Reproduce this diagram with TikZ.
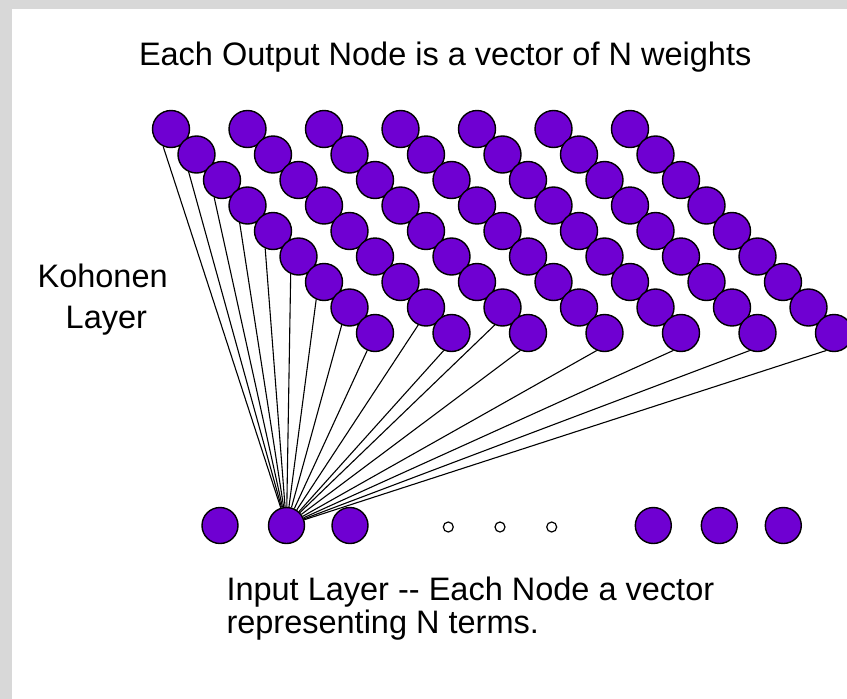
\documentclass[tikz,border=0pt]{standalone}
\usepackage{fontspec}
\setmainfont{Liberation Sans}
\pgfdeclarelayer{back}
\pgfdeclarelayer{bg}
\pgfsetlayers{back,bg,main}
\definecolor{nodepurple}{HTML}{6F00D2}
\definecolor{bggray}{HTML}{D8D8D8}
\begin{document}
\begin{tikzpicture}[x=1pt,y=-1pt,
  outnode/.style={circle,draw=black,fill=nodepurple,line width=1.4pt,minimum size=37pt,inner sep=0pt},
  innode/.style={circle,draw=black,fill=nodepurple,line width=1.4pt,minimum size=36pt,inner sep=0pt},
  dotnode/.style={circle,draw=black,fill=white,line width=1.2pt,minimum size=10pt,inner sep=0pt},
  link/.style={draw=black,line width=1.1pt},
  label/.style={inner sep=0pt,outer sep=0pt,anchor=base west,font=\fontsize{32.5}{40}\selectfont}]
\useasboundingbox (0,0) rectangle (847,699);
\begin{pgfonlayer}{back}
\fill[bggray] (0,0) rectangle (847,699);
\fill[white] (12,9) rectangle (847,699);
\end{pgfonlayer}
% title
\node[label] (title) at (139,65) {Each Output Node is a vector of N weights};
% side label
\node[label] (koh1) at (37.6,287) {Kohonen};
\node[label] (koh2) at (65.7,328) {Layer};
% output (Kohonen) nodes
\foreach \c in {0,...,6}{
  \foreach \k in {0,...,8}{
    \node[outnode] (o-\c-\k) at ({171+76.5*\c+25.5*\k},{129+25.5*\k}) {};
  }
}
% input nodes
\node[innode] (in1) at (220,525.5) {};
\node[innode] (in2) at (286.5,525.5) {};
\node[innode] (in3) at (350,525.5) {};
\node[dotnode] (s1) at (448.3,527) {};
\node[dotnode] (s2) at (500,527) {};
\node[dotnode] (s3) at (551.7,527) {};
\node[innode] (in4) at (653.3,525.5) {};
\node[innode] (in5) at (719.3,525.5) {};
\node[innode] (in6) at (783.3,525.5) {};
% connections
\begin{pgfonlayer}{bg}
\foreach \k in {0,...,8}{
  \draw[link] (o-0-\k.246) -- (in2);
}
\foreach \c in {1,2}{
  \draw[link] (o-\c-7.246) -- (in2);
}
\foreach \c in {1,...,6}{
  \draw[link] (o-\c-8.246) -- (in2);
}
\end{pgfonlayer}
% input label
\node[label] (inp1) at (226.5,600) {Input Layer -{}- Each Node a vector};
\node[label] (inp2) at (226.5,633) {representing N terms.};
\end{tikzpicture}
\end{document}
